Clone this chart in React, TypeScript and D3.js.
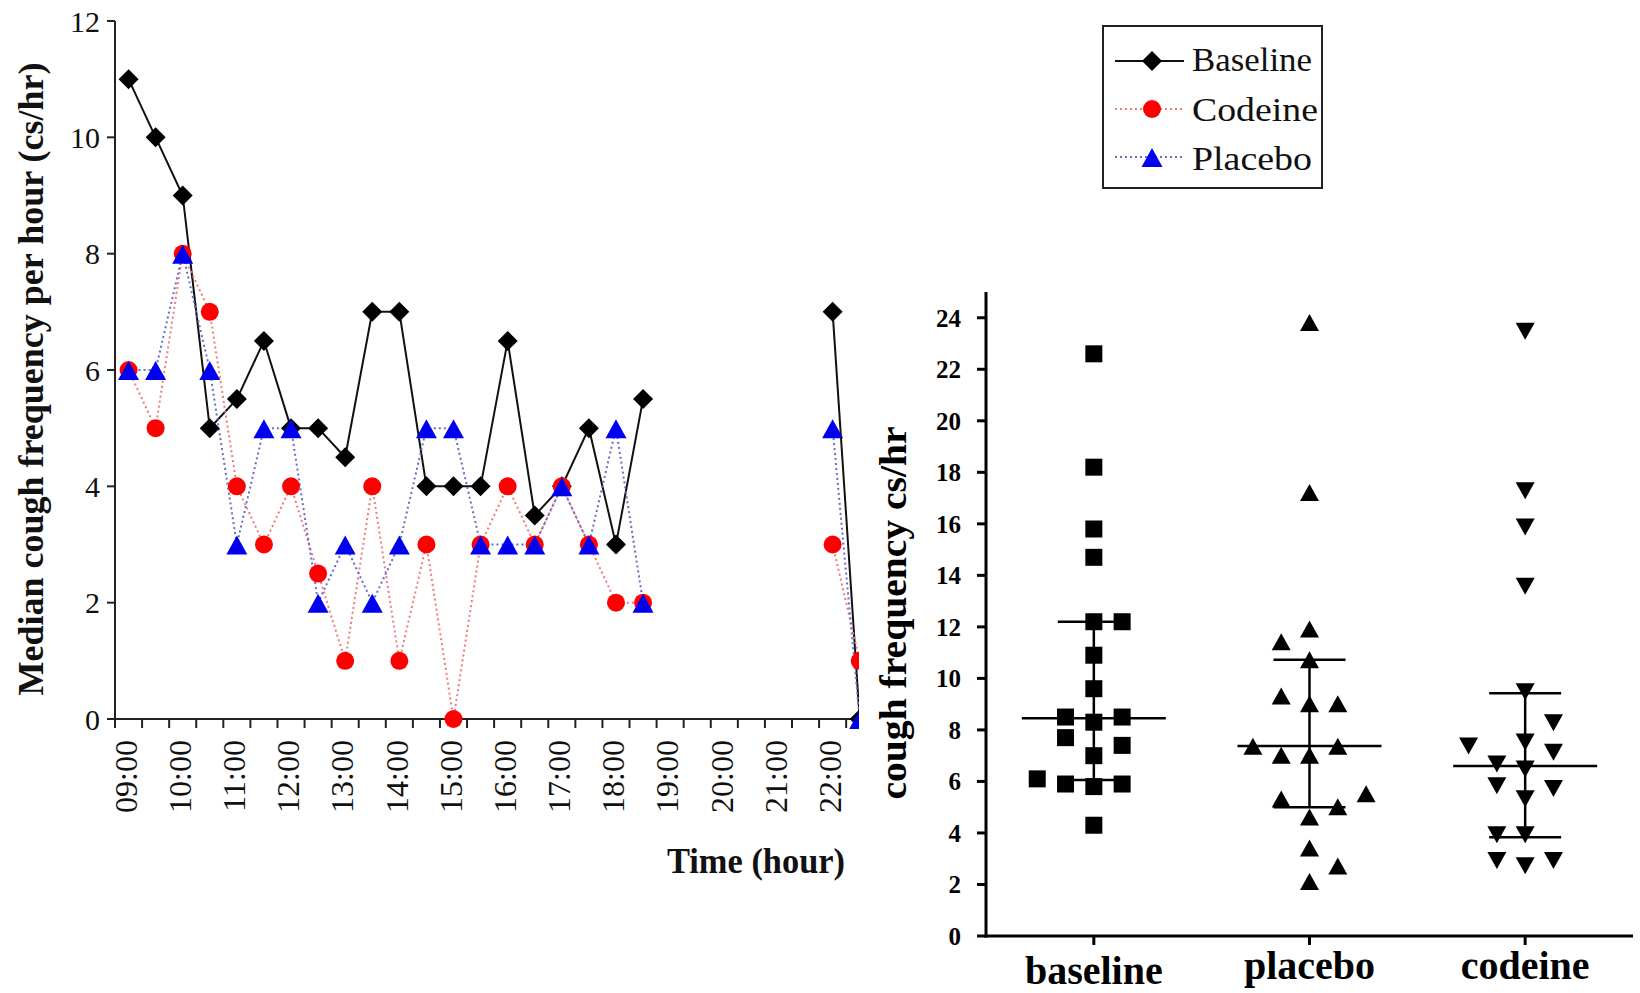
import React from "react";
import * as d3 from "d3";

// ---------- Left chart data (median cough frequency per half-hour) ----------
const timeSlots = [
  "09:00","09:30","10:00","10:30","11:00","11:30","12:00","12:30","13:00","13:30",
  "14:00","14:30","15:00","15:30","16:00","16:30","17:00","17:30","18:00","18:30",
  "19:00","19:30","20:00","20:30","21:00","21:30","22:00","22:30",
];
const hourLabels = [
  "09:00","10:00","11:00","12:00","13:00","14:00","15:00","16:00","17:00","18:00",
  "19:00","20:00","21:00","22:00",
];
const yTicksLeft = [0, 2, 4, 6, 8, 10, 12];
const baselineMedian: (number | null)[] = [
  11, 10, 9, 5, 5.5, 6.5, 5, 5, 4.5, 7, 7, 4, 4, 4, 6.5, 3.5, 4, 5, 3, 5.5,
  null, null, null, null, null, null, 7, 0,
];
const codeineMedian: (number | null)[] = [
  6, 5, 8, 7, 4, 3, 4, 2.5, 1, 4, 1, 3, 0, 3, 4, 3, 4, 3, 2, 2,
  null, null, null, null, null, null, 3, 1,
];
const placeboMedian: (number | null)[] = [
  6, 6, 8, 6, 3, 5, 5, 2, 3, 2, 3, 5, 5, 3, 3, 3, 4, 3, 5, 2,
  null, null, null, null, null, null, 5, 0,
];
const legendNames = ["Baseline", "Codeine", "Placebo"];

// ---------- Right chart data (individual cough rates) ----------
const groups = ["baseline", "placebo", "codeine"];
const yTicksRight = [0, 2, 4, 6, 8, 10, 12, 14, 16, 18, 20, 22, 24];
const baselineRates = [22.6, 18.2, 15.8, 14.7, 12.2, 12.2, 10.9, 9.6, 8.5, 8.3, 8.5, 7.7, 7.4, 7.0, 6.1, 5.9, 5.8, 5.9, 4.3];
const baselineCols = [0, 0, 0, 0, 0, 1, 0, 0, -1, 0, 1, -1, 1, 0, -2, -1, 0, 1, 0];
const placeboRates = [23.8, 17.2, 11.9, 11.4, 10.7, 9.3, 9.0, 9.0, 7.35, 7.35, 7.0, 7.0, 5.3, 5.0, 5.5, 4.6, 3.4, 2.7, 2.1];
const placeboCols = [0, 0, 0, -1, 0, -1, 0, 1, -2, 1, -1, 0, -1, 1, 2, 0, 0, 1, 0];
const codeineRates = [23.5, 17.3, 15.9, 13.6, 9.5, 8.3, 7.4, 7.55, 7.15, 6.7, 6.5, 5.85, 5.75, 5.35, 3.95, 3.95, 2.95, 2.75, 2.95];
const codeineCols = [0, 0, 0, 0, 0, 1, -2, 0, 1, -1, 0, -1, 1, 0, -1, 0, -1, 0, 1];
const groupMedians = [8.45, 7.38, 6.6];
const groupQ1 = [6.06, 5.0, 3.83];
const groupQ3 = [12.2, 10.72, 9.42];

const FONT = "'Liberation Serif', 'Times New Roman', serif";

const diamond = (r: number) => `M0,${-r}L${r},0L0,${r}L${-r},0Z`;
const triUp = (w: number, top: number, bot: number) => `M0,${-top}L${w},${bot}L${-w},${bot}Z`;
const triDown = (w: number, top: number, bot: number) => `M0,${bot}L${w},${-top}L${-w},${-top}Z`;
const square = (s: number) => `M${-s / 2},${-s / 2}h${s}v${s}h${-s}Z`;

export default function App() {
  // ---------- Left chart scales ----------
  const step = 27.08;
  const xL = d3.scaleBand<string>().domain(timeSlots).range([115, 115 + step * timeSlots.length]).padding(0);
  const yL = d3.scaleLinear().domain([0, 12]).range([719, 21]);
  const cx = (t: string) => (xL(t) as number) + xL.bandwidth() / 2;
  const lineGen = d3
    .line<number | null>()
    .defined((d) => d != null)
    .x((_, i) => cx(timeSlots[i]))
    .y((d) => yL(d as number));

  // ---------- Right chart scales ----------
  const xR = d3.scalePoint<string>().domain(groups).range([986, 1633]).padding(0.5);
  const yR = d3.scaleLinear().domain([0, 25]).range([936, 292]);
  const colW = 28.3;
  const rateSets = [
    { vals: baselineRates, cols: baselineCols, shape: square(17) },
    { vals: placeboRates, cols: placeboCols, shape: triUp(9.5, 9, 8) },
    { vals: codeineRates, cols: codeineCols, shape: triDown(9.5, 8, 9) },
  ];

  const series = [
    { data: baselineMedian, stroke: "#111", dash: undefined as string | undefined, width: 2 },
    { data: codeineMedian, stroke: "#f07a7a", dash: "2,3", width: 2 },
    { data: placeboMedian, stroke: "#6a6ac8", dash: "2,3", width: 2 },
  ];

  const markerFor = (k: number) =>
    k === 0 ? (
      <path d={diamond(10)} fill="#000" />
    ) : k === 1 ? (
      <circle r={9} fill="#ff0000" />
    ) : (
      <path d={triUp(10.5, 9, 10)} fill="#0000ee" />
    );

  const legendY = [61, 109, 157];
  const legendTextY = [71, 121, 170];
  const legendLen = [120, 126, 120];

  return (
    <svg
      width={1640}
      height={993}
      style={{ position: "absolute", left: 0, top: 0, background: "#fff" }}
      fontFamily={FONT}
    >
      <defs>
        <clipPath id="leftClip">
          <rect x={0} y={0} width={859} height={993} />
        </clipPath>
      </defs>

      {/* ================= LEFT CHART ================= */}
      <g clipPath="url(#leftClip)">
        {/* axes */}
        <line x1={115} x2={115} y1={21} y2={719} stroke="#222" strokeWidth={2} />
        <line x1={115} x2={115 + step * timeSlots.length} y1={719} y2={719} stroke="#222" strokeWidth={2} />
        {yTicksLeft.map((t) => (
          <g key={t}>
            <line x1={107} x2={115} y1={yL(t)} y2={yL(t)} stroke="#222" strokeWidth={2} />
            <text x={100} y={yL(t)} dy="0.35em" textAnchor="end" fontSize={30} fill="#111">
              {t}
            </text>
          </g>
        ))}
        {timeSlots.map((t) => (
          <line key={t} x1={xL(t) as number} x2={xL(t) as number} y1={719} y2={728} stroke="#222" strokeWidth={2} />
        ))}
        {hourLabels.map((h) => (
          <text
            key={h}
            transform={`translate(${cx(h) - 3},740) rotate(-90)`}
            dy="0.35em"
            textAnchor="end"
            fontSize={32}
            fill="#111"
          >
            {h}
          </text>
        ))}

        {/* lines */}
        {series.map((s, k) => (
          <path
            key={k}
            d={lineGen(s.data) || ""}
            fill="none"
            stroke={s.stroke}
            strokeWidth={s.width}
            strokeDasharray={s.dash}
          />
        ))}
        {/* markers */}
        {series.map((s, k) => (
          <g key={k}>
            {s.data.map((v, i) =>
              v == null ? null : (
                <g key={i} transform={`translate(${cx(timeSlots[i])},${yL(v)})`}>
                  {markerFor(k)}
                </g>
              )
            )}
          </g>
        ))}
      </g>

      {/* left axis titles */}
      <text
        transform="translate(30,379) rotate(-90)"
        dy="0.35em"
        textAnchor="middle"
        fontSize={36}
        fontWeight="bold"
        fill="#111"
        textLength={633}
        lengthAdjust="spacingAndGlyphs"
      >
        Median cough frequency per hour (cs/hr)
      </text>
      <text x={845} y={873} textAnchor="end" fontSize={35} fontWeight="bold" fill="#111" textLength={178} lengthAdjust="spacingAndGlyphs">
        Time (hour)
      </text>

      {/* legend */}
      <rect x={1103} y={26} width={219} height={162} fill="#fff" stroke="#222" strokeWidth={2} />
      {legendNames.map((n, k) => (
        <g key={n}>
          <line
            x1={1115}
            x2={1184}
            y1={legendY[k]}
            y2={legendY[k]}
            stroke={series[k].stroke}
            strokeWidth={2}
            strokeDasharray={series[k].dash}
          />
          <g transform={`translate(1152,${legendY[k]})`}>{markerFor(k)}</g>
          <text
            x={1192}
            y={legendTextY[k]}
            fontSize={33}
            fill="#111"
            textLength={legendLen[k]}
            lengthAdjust="spacingAndGlyphs"
          >
            {n}
          </text>
        </g>
      ))}

      {/* ================= RIGHT CHART ================= */}
      <line x1={986} x2={986} y1={292} y2={937.5} stroke="#000" strokeWidth={3} />
      <line x1={984.5} x2={1633} y1={936} y2={936} stroke="#000" strokeWidth={3} />
      {yTicksRight.map((t) => (
        <g key={t}>
          <line x1={977} x2={986} y1={yR(t)} y2={yR(t)} stroke="#000" strokeWidth={3} />
          <text x={961} y={yR(t)} dy="0.35em" textAnchor="end" fontSize={25} fontWeight="bold" fill="#000">
            {t}
          </text>
        </g>
      ))}
      {groups.map((g, k) => (
        <g key={g}>
          <line x1={xR(g) as number} x2={xR(g) as number} y1={936} y2={945} stroke="#000" strokeWidth={3} />
          <text
            x={xR(g) as number}
            y={k === 0 ? 984 : 979}
            textAnchor="middle"
            fontSize={40}
            fontWeight="bold"
            fill="#000"
          >
            {g}
          </text>
        </g>
      ))}
      <text
        transform="translate(893,613) rotate(-90)"
        dy="0.35em"
        textAnchor="middle"
        fontSize={38}
        fontWeight="bold"
        fill="#000"
        textLength={373}
        lengthAdjust="spacingAndGlyphs"
      >
        cough frequency cs/hr
      </text>

      {/* summary lines */}
      {groups.map((g, k) => {
        const x = xR(g) as number;
        return (
          <g key={g} stroke="#000" strokeWidth={2.5}>
            <line x1={x} x2={x} y1={yR(groupQ1[k])} y2={yR(groupQ3[k])} />
            <line x1={x - 72} x2={x + 72} y1={yR(groupMedians[k])} y2={yR(groupMedians[k])} />
            <line x1={x - 36} x2={x + 36} y1={yR(groupQ1[k])} y2={yR(groupQ1[k])} />
            <line x1={x - 36} x2={x + 36} y1={yR(groupQ3[k])} y2={yR(groupQ3[k])} />
          </g>
        );
      })}
      {/* points */}
      {groups.map((g, k) => {
        const x = xR(g) as number;
        const set = rateSets[k];
        return (
          <g key={g}>
            {set.vals.map((v, i) => (
              <path key={i} d={set.shape} fill="#000" transform={`translate(${x + set.cols[i] * colW},${yR(v)})`} />
            ))}
          </g>
        );
      })}
    </svg>
  );
}
